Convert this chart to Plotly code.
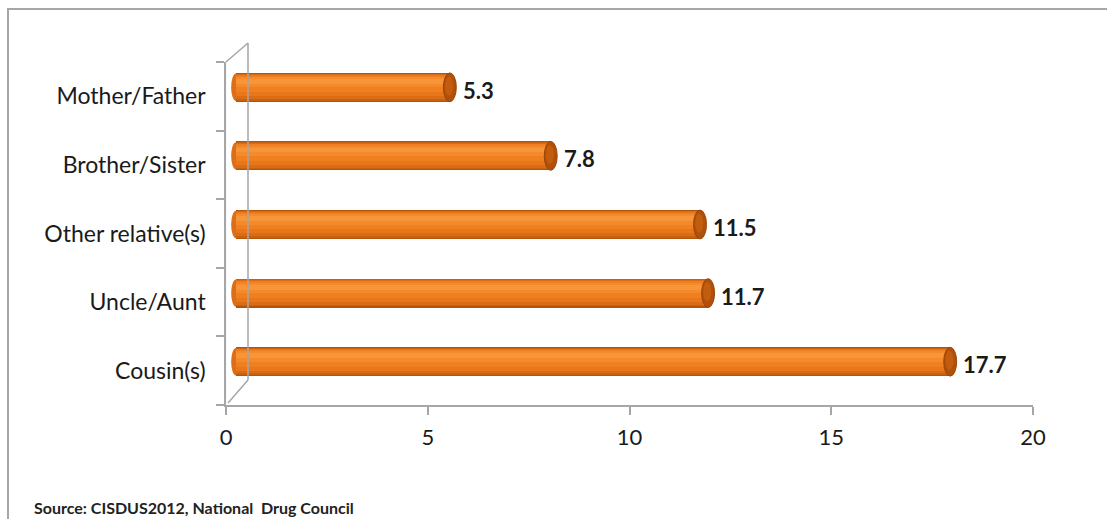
import plotly.graph_objects as go

# ---- data ----
categories = ["Cousin(s)", "Uncle/Aunt", "Other relative(s)", "Brother/Sister", "Mother/Father"]
values = [17.7, 11.7, 11.5, 7.8, 5.3]
x_ticks = [0, 5, 10, 15, 20]
source_text = "Source: CISDUS2012, National  Drug Council"

# ---- layout geometry (pixels) ----
W, H = 1107, 519
L, R, T, B = 226, 1033, 62, 405
pw, ph = R - L, B - T
FONT = "Lato"
GRAY = "#a6a6a6"
TXT = "#1a1a1a"

def px(xp):
    return (xp - L) / pw

def py(yp):
    return (B - yp) / ph

xmin, xmax = 0, 20
scale = pw / (xmax - xmin)
dx_px, dy_px = 10, 9          # 3D depth offset of the bars
dx = dx_px / scale
n = len(categories)
dy = dy_px / (ph / n)

fig = go.Figure()

layers = [
    ("#b3540b", -0.21, 0.21),
    ("#c8620f", -0.195, 0.20),
    ("#da6c15", -0.17, 0.19),
    ("#e8761b", -0.13, 0.18),
    ("#f0801f", -0.07, 0.17),
    ("#f48a2c", 0.00, 0.15),
    ("#f79639", 0.05, 0.12),
]
for color, lo, hi in layers:
    fig.add_trace(go.Bar(
        y=categories, x=values, orientation="h",
        xaxis="x2", yaxis="y2",
        marker=dict(color=color, line=dict(width=0)),
        offset=lo, width=hi - lo,
        hoverinfo="skip", showlegend=False,
    ))

# end caps of the cylinders (left end slightly rounded, right end cap)
for i, v in enumerate(values):
    fig.add_shape(type="circle", xref="x2", yref="y2",
                  x0=-0.12, x1=0.12, y0=i - 0.20, y1=i + 0.20,
                  fillcolor="#dc6e17", line=dict(width=0),
                  layer="below")
    fig.add_shape(type="circle", xref="x2", yref="y2",
                  x0=v - 0.16, x1=v + 0.16, y0=i - 0.21, y1=i + 0.21,
                  fillcolor="#b0500a", line=dict(color="#9a4608", width=1))
    fig.add_shape(type="circle", xref="x2", yref="y2",
                  x0=v - 0.12, x1=v + 0.08, y0=i - 0.12, y1=i + 0.16,
                  fillcolor="#c25c0e", line=dict(width=0))
    fig.add_annotation(xref="x2", yref="y2", x=v, y=i, text="<b>%s</b>" % v,
                       showarrow=False, xanchor="left", xshift=11, yshift=-3,
                       font=dict(family=FONT, size=22, color=TXT))

# invisible main trace for axes
fig.add_trace(go.Bar(y=categories, x=[0] * n, orientation="h",
                     marker=dict(color="rgba(0,0,0,0)"), hoverinfo="skip",
                     showlegend=False))

# 3D wall lines
wall = [
    (L, T, L + 22, T - 19),
    (L + 22, T - 19, L + 22, B - 25),
    (L + 22, B - 25, L + 2, B - 2),
]
for x0, y0, x1, y1 in wall:
    fig.add_shape(type="line", xref="paper", yref="paper",
                  x0=px(x0), y0=py(y0), x1=px(x1), y1=py(y1),
                  line=dict(color=GRAY, width=1.5))

# outer frame
fig.add_shape(type="rect", xref="paper", yref="paper",
              x0=px(8), y0=py(9), x1=px(W + 5), y1=py(H + 5),
              line=dict(color=GRAY, width=2), fillcolor="rgba(0,0,0,0)",
              layer="below")

fig.add_annotation(xref="paper", yref="paper", x=px(32), y=py(507),
                   text="<b>" + source_text + "</b>", showarrow=False,
                   xanchor="left", yanchor="middle",
                   font=dict(family=FONT, size=16, color="#222222"))

fig.update_layout(
    width=W, height=H,
    margin=dict(l=L, r=W - R, t=T, b=H - B),
    paper_bgcolor="white", plot_bgcolor="white",
    barmode="overlay", bargap=0,
    xaxis=dict(range=[xmin, xmax], tickvals=x_ticks, showgrid=False,
               zeroline=False, showline=True, linecolor=GRAY, linewidth=1.5,
               ticks="outside", ticklen=8, tickcolor=GRAY, tickwidth=1.5,
               tickfont=dict(family=FONT, size=22, color=TXT),
               ticklabelstandoff=4, fixedrange=True),
    yaxis=dict(type="category", categoryorder="array", categoryarray=categories,
               range=[-0.5, n - 0.5], showgrid=False, zeroline=False,
               showline=True, linecolor=GRAY, linewidth=1.5,
               ticks="outside", tickson="boundaries", ticklen=8,
               tickcolor=GRAY, tickwidth=1.5,
               tickfont=dict(family=FONT, size=23, color=TXT),
               ticklabelstandoff=14, fixedrange=True),
    xaxis2=dict(overlaying="x", range=[xmin - dx, xmax - dx], visible=False,
                fixedrange=True),
    yaxis2=dict(overlaying="y", type="category", categoryorder="array",
                categoryarray=categories, range=[-0.5 - dy, n - 0.5 - dy],
                visible=False, fixedrange=True),
)

fig.write_html("out.html", config={"displayModeBar": False},
               post_script="document.body.style.margin='0';document.body.style.overflow='hidden';")
